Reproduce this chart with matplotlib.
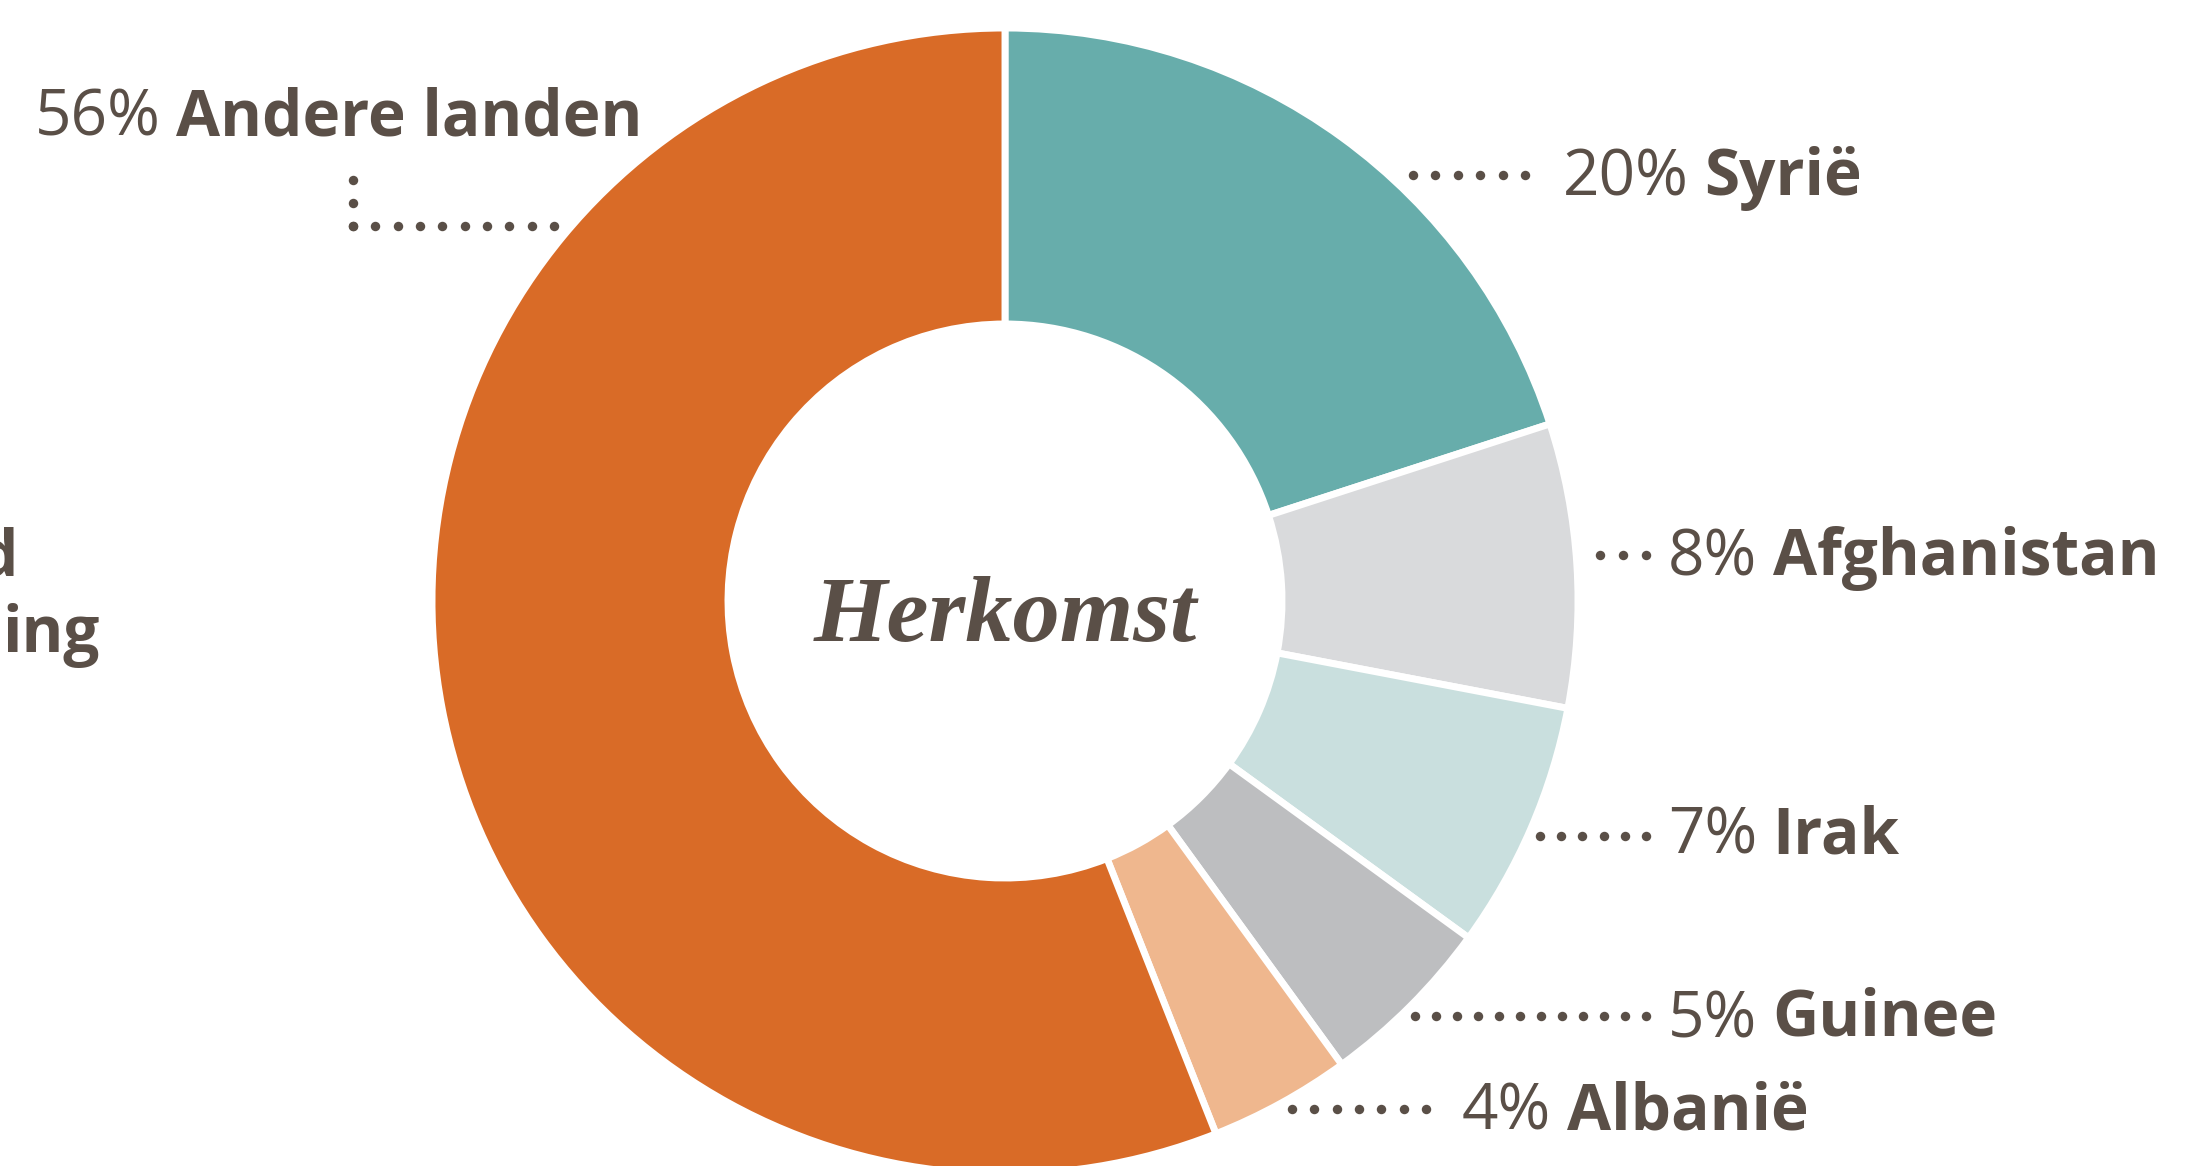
import matplotlib
matplotlib.use("Agg")
import matplotlib.pyplot as plt
import numpy as np

# ---- data ----
countries = ["Syrië", "Afghanistan", "Irak", "Guinee", "Albanië", "Andere landen"]
shares = [20, 8, 7, 5, 4, 56]
colors = ["#67ADAB", "#D9DADC", "#C9DFDE", "#BDBEC0", "#EFB78E", "#D96B27"]
center_title = "Herkomst"
cut_lines = ["d", "ing"]

TXT = "#5A4F47"
W, H = 2192, 1166
fig = plt.figure(figsize=(W / 100, H / 100), dpi=100)
ax = fig.add_axes([0, 0, 1, 1])

cx, cy = 1005, H - 601
R, r = 573, 277
ax.pie(shares, colors=colors, startangle=90, counterclock=False,
       center=(cx, cy), radius=R,
       wedgeprops=dict(width=R - r, edgecolor="white", linewidth=5))
ax.set_xlim(0, W)
ax.set_ylim(0, H)
ax.set_aspect("auto")
ax.axis("off")

FS = 46
FAM = "Open Sans"
def label(x, y_px, pct, name):
    t1 = ax.text(x, H - y_px, f"{pct}%", fontsize=FS, family=FAM,
                 weight="normal", color=TXT, va="baseline", ha="left")
    ax.annotate(name, xy=(1, 0), xycoords=t1, xytext=(11, 0),
                textcoords="offset points", fontsize=FS, family=FAM,
                weight="bold", color=TXT, va="bottom", ha="left")

MS = 6.8
def hdots(x0, x1, y, n):
    xs = np.linspace(x0, x1, n)
    ax.plot(xs, np.full(n, H - y), ls="none", marker="o", ms=MS,
            mec="none", mfc=TXT)

def vdots(x, y0, y1, n):
    ys = np.linspace(y0, y1, n)
    ax.plot(np.full(n, x), H - ys, ls="none", marker="o", ms=MS,
            mec="none", mfc=TXT)

# labels: (x_start, baseline_px)
label(35, 136, shares[5], countries[5])
vdots(353, 180, 226, 3)
hdots(353, 554, 226, 10)

label(1563, 196, shares[0], countries[0])
hdots(1413, 1525, 175, 6)

label(1668, 576, shares[1], countries[1])
hdots(1600, 1646, 555, 3)

label(1668, 854, shares[2], countries[2])
hdots(1540, 1646, 836, 6)

label(1668, 1037, shares[3], countries[3])
hdots(1415, 1646, 1016, 12)

label(1462, 1130, shares[4], countries[4])
hdots(1292, 1426, 1109, 7)

ax.text(18, H - 576, cut_lines[0], fontsize=FS, family=FAM, weight="bold",
        color=TXT, ha="right", va="baseline")
ax.text(100, H - 652, cut_lines[1], fontsize=FS, family=FAM, weight="bold",
        color=TXT, ha="right", va="baseline")

ax.text(cx, H - 618, center_title, fontsize=68, family="Liberation Serif",
        weight="bold", style="italic", color=TXT, ha="center", va="center")

fig.savefig("out.png", dpi=100)
